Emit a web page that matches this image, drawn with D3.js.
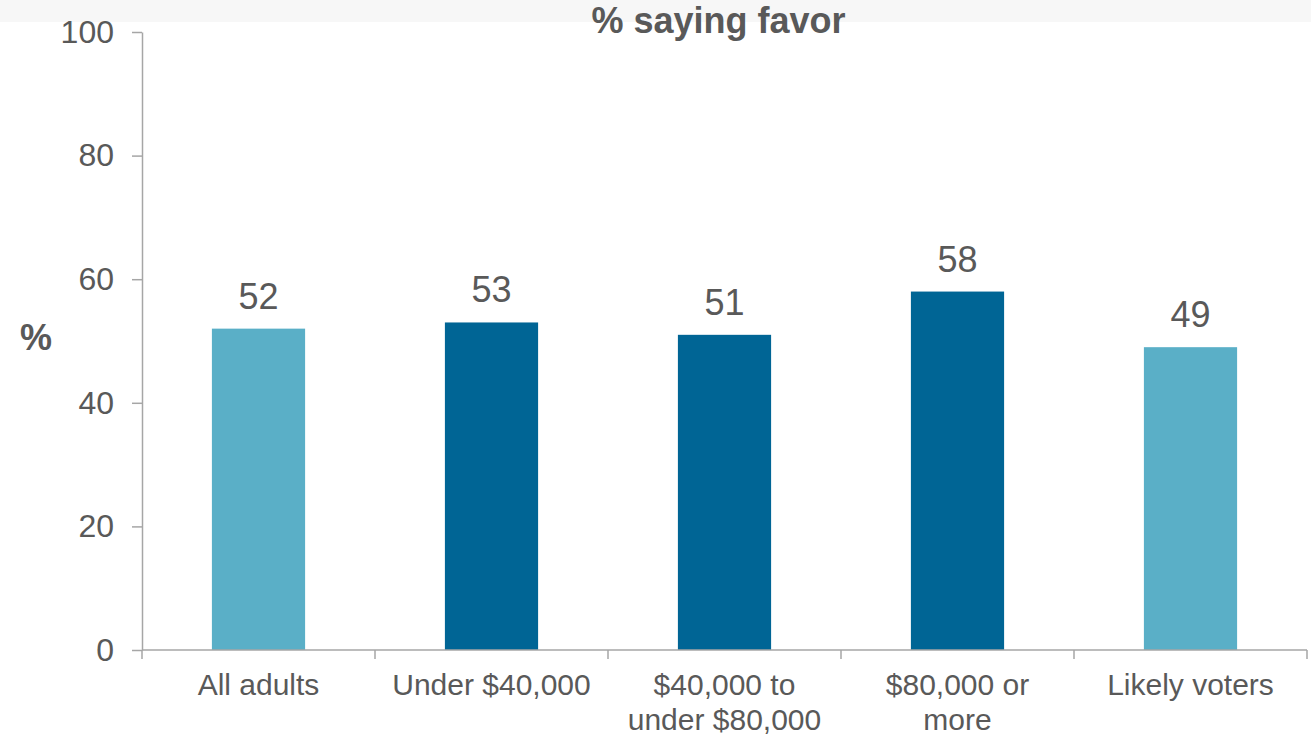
<!DOCTYPE html>
<html><head><meta charset="utf-8">
<script src="https://cdn.jsdelivr.net/npm/d3@7"></script>
<style>body{margin:0;background:#fff}svg{display:block;font-family:"Liberation Sans",Arial,sans-serif}</style>
</head><body>
<script>
const categories = ["All adults", "Under $40,000", "$40,000 to\nunder $80,000", "$80,000 or\nmore", "Likely voters"];
const values = [52, 53, 51, 58, 49];
const groups = ["overall", "income", "income", "income", "overall"];
const yTicks = [0, 20, 40, 60, 80, 100];
const title = "% saying favor";
const yLabel = "%";

const W = 1311, H = 737;
const svg = d3.select("body").append("svg").attr("width", W).attr("height", H);
svg.append("rect").attr("x",0).attr("y",0).attr("width",W).attr("height",H).attr("fill","#fff");
svg.append("rect").attr("x",0).attr("y",0).attr("width",W).attr("height",22).attr("fill","#f7f7f7");

const m = {left: 142, right: 4, top: 32, bottom: 87};
const x = d3.scaleBand().domain(categories).range([m.left, W - m.right]).paddingInner(0.6).paddingOuter(0.3);
const y = d3.scaleLinear().domain([0, 100]).range([H - m.bottom, m.top]);
const color = d3.scaleOrdinal().domain(["overall","income"]).range(["#5aafc7","#006595"]);
const text = "#595959", axisC = "#a6a6a6";

// bars
svg.selectAll("rect.bar").data(values).join("rect").attr("class","bar")
  .attr("x",(d,i)=>x(categories[i])).attr("width",x.bandwidth())
  .attr("y",d=>y(d)).attr("height",d=>y(0)-y(d))
  .attr("fill",(d,i)=>color(groups[i]));

// value labels
svg.selectAll("text.val").data(values).join("text").attr("class","val")
  .attr("x",(d,i)=>x(categories[i])+x.bandwidth()/2).attr("y",d=>y(d)-20)
  .attr("text-anchor","middle").attr("font-size",36).attr("fill",text).text(d=>d);

// y axis
const ya = svg.append("g").attr("transform",`translate(${m.left},0)`)
  .call(d3.axisLeft(y).tickValues(yTicks).tickSize(10).tickPadding(18).tickSizeOuter(0));
ya.select(".domain").attr("stroke",axisC).attr("stroke-width",1.5);
ya.selectAll(".tick line").attr("stroke",axisC).attr("stroke-width",1.5);
ya.selectAll(".tick text").attr("font-size",32).attr("fill",text).attr("font-family","Liberation Sans, Arial, sans-serif");

// x axis
const xb = d3.scaleBand().domain(categories).range([m.left, W - m.right]);
const xa = svg.append("g").attr("transform",`translate(0,${y(0)})`);
xa.append("line").attr("x1",m.left).attr("x2",W-m.right).attr("stroke",axisC).attr("stroke-width",1.5);
const edges = categories.map(c=>xb(c)).concat([W - m.right]);
xa.selectAll("line.t").data(edges).join("line").attr("class","t")
  .attr("x1",d=>d).attr("x2",d=>d).attr("y1",0).attr("y2",9).attr("stroke",axisC).attr("stroke-width",1.5);
const lbl = svg.selectAll("text.cat").data(categories).join("text").attr("class","cat")
  .attr("x",d=>x(d)+x.bandwidth()/2).attr("y",y(0)+45)
  .attr("text-anchor","middle").attr("font-size",30).attr("fill",text);
lbl.each(function(d){
  const t = d3.select(this);
  d.split("\n").forEach((s,i)=>t.append("tspan").attr("x",x(d)+x.bandwidth()/2).attr("dy",i?35:0).text(s));
});

// title
svg.append("text").attr("x",(m.left+W-m.right)/2 - 6).attr("y",33).attr("text-anchor","middle")
  .attr("font-size",36).attr("font-weight","bold").attr("fill",text).text(title);
// y label
svg.append("text").attr("x",36).attr("y",350).attr("text-anchor","middle")
  .attr("font-size",36).attr("font-weight","bold").attr("fill",text).text(yLabel);
</script>
</body></html>
